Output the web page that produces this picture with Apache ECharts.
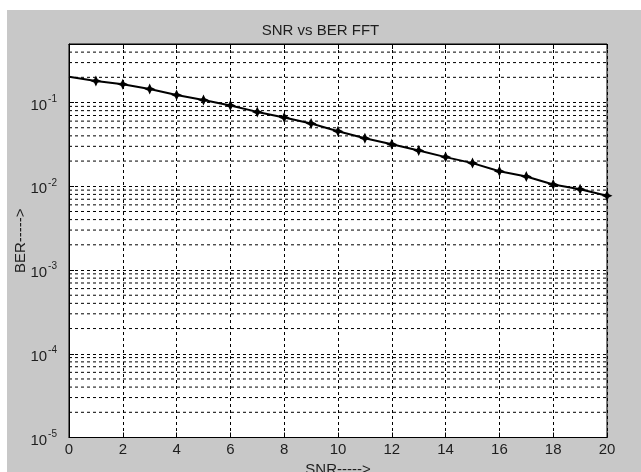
<!DOCTYPE html>
<html>
<head>
<meta charset="utf-8">
<script src="https://cdn.jsdelivr.net/npm/echarts@6/dist/echarts.min.js"></script>
<style>
html,body{margin:0;padding:0;background:#fff;}
#c{width:641px;height:472px;}
</style>
</head>
<body>
<div id="c"></div>
<script>
// SNR (dB) values
var snr = [0,1,2,3,4,5,6,7,8,9,10,11,12,13,14,15,16,17,18,19,20];
// BER values
var ber = [0.203,0.181,0.165,0.145,0.123,0.107,0.0923,0.0773,0.0662,0.0561,0.0454,0.0374,0.0317,0.0268,0.0223,0.0189,0.0151,0.0131,0.0105,0.0092,0.0077];
// axis settings
var xTicks = [0,2,4,6,8,10,12,14,16,18,20];
var yDecades = [-5,-4,-3,-2,-1];
var minorMult = [2,3,4,5,6,7,8,9];
var titleText = 'SNR vs BER FFT';
var xName = 'SNR----->';
var yName = 'BER----->';

var yMin = 1e-5, yMax = 0.5;
var xMin = xTicks[0], xMax = xTicks[xTicks.length - 1];

var font = 'Liberation Sans, Arial, sans-serif';
var starPath = 'path://M0,-10 L3.2,-3.2 L10,0 L3.2,3.2 L0,10 L-3.2,3.2 L-10,0 L-3.2,-3.2 Z';

// minor (2..9 per decade) dashed grid lines, drawn as flat line series through the axes
var minorSeries = [];
yDecades.forEach(function(d){
  minorMult.forEach(function(k){
    var v = k * Math.pow(10, d);
    if (v < yMax * 0.999) {
      minorSeries.push({
        type: 'line', silent: true, symbol: 'none', z: 1,
        data: [[xMin, v], [xMax, v]],
        lineStyle: {color: '#000', width: 1, type: [3,3]},
        tooltip: {show: false}
      });
    }
  });
});

var seriesData = snr.map(function(x, i){
  var item = {value: [x, ber[i]]};
  if (i === 0) item.symbol = 'none';
  return item;
});

var chart = echarts.init(document.getElementById('c'), null, {renderer:'canvas'});
chart.setOption({
  animation: false,
  backgroundColor: '#ffffff',
  graphic: [{
    type: 'rect', z: -10, silent: true,
    shape: {x: 7, y: 10, width: 634, height: 462},
    style: {fill: '#c8c8c8'}
  }],
  title: {
    text: titleText, left: 'center', top: 18,
    textStyle: {fontFamily: font, fontSize: 15, fontWeight: 'normal', color: '#1e1e1e'}
  },
  grid: {
    left: 69, right: 34, top: 44, bottom: 34.5,
    outerBoundsMode: 'none', containLabel: false,
    show: true, backgroundColor: '#ffffff', borderColor: '#000', borderWidth: 1
  },
  xAxis: [{
    type: 'value', min: xMin, max: xMax, interval: 2,
    name: xName, nameLocation: 'middle', nameGap: 25, nameMoveOverlap: false,
    nameTextStyle: {fontFamily: font, fontSize: 15, color: '#1e1e1e'},
    axisLine: {show: true, lineStyle: {color: '#000', width: 1}},
    axisTick: {show: true, inside: true, length: 5, lineStyle: {color: '#000'}},
    axisLabel: {fontFamily: font, fontSize: 15, color: '#1e1e1e', margin: 5},
    splitLine: {show: true, lineStyle: {color: '#000', width: 1, type: [3,3]}}
  },{
    type: 'value', min: xMin, max: xMax, interval: 2, position: 'top',
    axisLine: {show: true, lineStyle: {color: '#000'}},
    axisTick: {show: true, inside: true, length: 5, lineStyle: {color: '#000'}},
    axisLabel: {show: false}, splitLine: {show: false}
  }],
  yAxis: [{
    type: 'log', logBase: 10, min: yMin, max: yMax,
    name: yName, nameLocation: 'middle', nameGap: 41, nameRotate: 90, nameMoveOverlap: false,
    nameTextStyle: {fontFamily: font, fontSize: 15, color: '#1e1e1e'},
    axisLine: {show: true, lineStyle: {color: '#000', width: 1}},
    axisTick: {show: true, inside: true, length: 5, lineStyle: {color: '#000'}},
    axisLabel: {
      margin: 12, showMaxLabel: false,
      formatter: function(v){
        var e = Math.log10(v);
        var r = Math.round(e);
        if (Math.abs(e - r) > 1e-6) return '';
        return '{a|10}{b|' + r + '}';
      },
      rich: {
        a: {fontFamily: font, fontSize: 15, color: '#1e1e1e', padding: [6,0,0,0]},
        b: {fontFamily: font, fontSize: 10, color: '#1e1e1e', padding: [0,0,7,1]}
      }
    },
    splitLine: {show: true, lineStyle: {color: '#000', width: 1, type: [3,3]}}
  }],
  series: minorSeries.concat([{
    type: 'line',
    data: seriesData,
    xAxisIndex: 0, yAxisIndex: 0,
    symbol: starPath, symbolSize: 11,
    lineStyle: {color: '#000', width: 2},
    itemStyle: {color: '#000'},
    z: 5
  }])
});
</script>
</body>
</html>
